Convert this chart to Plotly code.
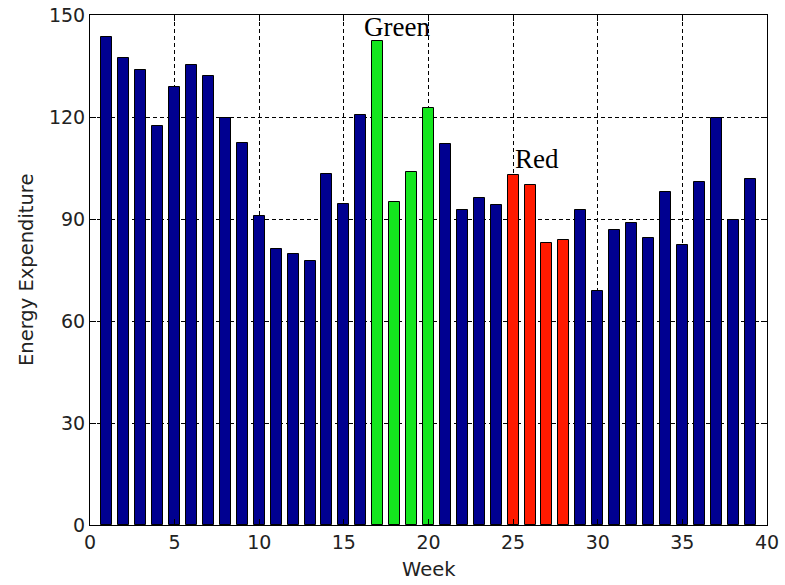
import plotly.graph_objects as go

weeks = list(range(1, 40))
energy = [143.4, 137.3, 133.9, 117.3, 128.8, 135.2, 132.2, 119.7, 112.4, 91.0,
          81.2, 79.8, 77.7, 103.1, 94.5, 120.6, 142.5, 95.0, 103.9, 122.7,
          112.0, 92.7, 96.1, 94.0, 103.0, 100.0, 82.8, 83.8, 92.7, 68.8,
          86.8, 88.8, 84.5, 97.9, 82.4, 100.9, 119.8, 89.7, 101.9]
green_weeks = [17, 18, 19, 20]
red_weeks = [25, 26, 27, 28]
x_ticks = [0, 5, 10, 15, 20, 25, 30, 35, 40]
y_ticks = [0, 30, 60, 90, 120, 150]

NAVY = "#000090"
GREEN = "#14e61e"
RED = "#ff1a00"
colors = [GREEN if w in green_weeks else RED if w in red_weeks else NAVY for w in weeks]

fig = go.Figure()
fig.add_trace(go.Bar(
    x=weeks, y=energy, width=0.65,
    marker=dict(color=colors, line=dict(color="black", width=1)),
    showlegend=False,
))

FONT = "DejaVu Sans, Verdana"
SERIF = "Liberation Serif, Times New Roman"
axis_common = dict(
    showline=True, linecolor="black", linewidth=1, mirror="ticks",
    ticks="inside", ticklen=6, tickcolor="black",
    showgrid=True, gridcolor="black", gridwidth=1, griddash="4px,3px",
    zeroline=False, automargin=False,
    tickfont=dict(family=FONT, size=19, color="#222"),
)

fig.update_xaxes(range=[0, 40], tickvals=x_ticks, **axis_common)
fig.update_yaxes(range=[0, 150], tickvals=y_ticks, **axis_common)

fig.add_annotation(x=0.5, xref="paper", y=-0.0878, yref="paper", text="Week",
                   showarrow=False, xanchor="center", yanchor="middle",
                   font=dict(family=FONT, size=19.5, color="#222"))
fig.add_annotation(x=-0.0945, xref="paper", y=0.5, yref="paper", text="Energy Expenditure",
                   showarrow=False, xanchor="center", yanchor="middle", textangle=-90,
                   font=dict(family=FONT, size=19.5, color="#222"))

fig.add_annotation(x=16.1, y=146.5, text="Green", showarrow=False,
                   xanchor="left", yanchor="middle",
                   font=dict(family=SERIF, size=27, color="black"))
fig.add_annotation(x=25.0, y=107.6, text="Red", showarrow=False,
                   xanchor="left", yanchor="middle",
                   font=dict(family=SERIF, size=27, color="black"))

fig.update_layout(
    width=785, height=585,
    margin=dict(l=90, r=18, t=15, b=60, autoexpand=False),
    plot_bgcolor="white", paper_bgcolor="white",
    bargap=0,
)

fig.write_html("out.html", config={"displayModeBar": False},
               post_script="document.body.style.margin='0';")
